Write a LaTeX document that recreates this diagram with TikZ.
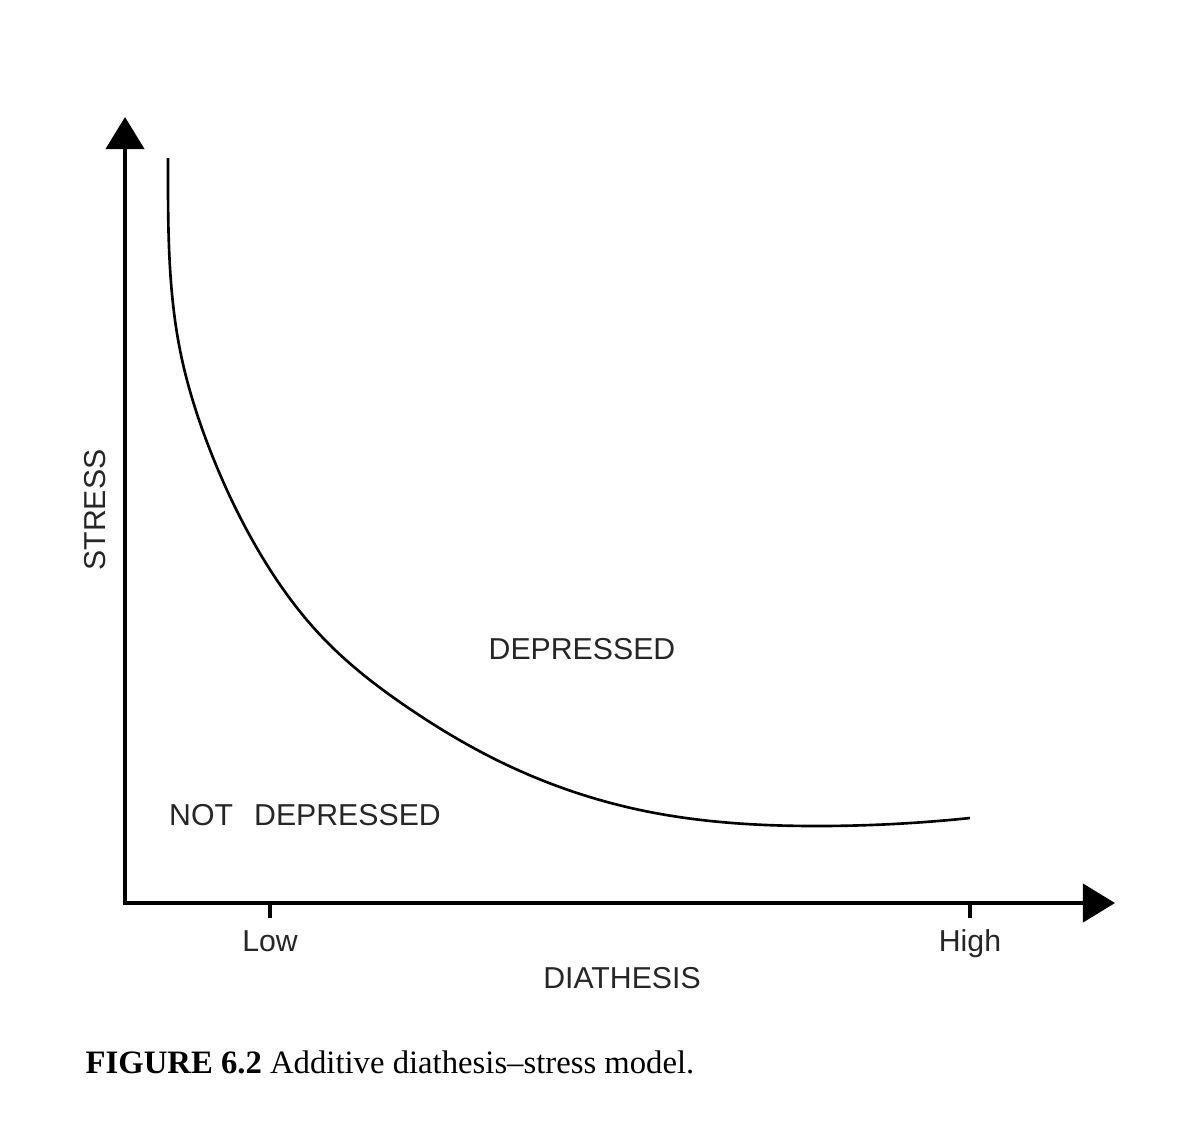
\documentclass[tikz,border=0pt]{standalone}
\usepackage{fontspec}
\setmainfont{Liberation Serif}
\newfontfamily\labelfont{Liberation Sans}
\usepackage{tikz}
\usetikzlibrary{arrows.meta, positioning, hobby}

\begin{document}
\begin{tikzpicture}[x=0.01cm, y=-0.01cm,
    axis/.style={line width=1.15pt},
    curve/.style={line width=0.75pt},
    lbl/.style={font=\labelfont\fontsize{8.6}{10}\selectfont, text=black!85, inner sep=0pt}]

    \useasboundingbox (0,0) rectangle (1200,1136);

    % =================================================================
    % 1. HE TRUC
    % =================================================================
    \coordinate (O) at (125,903);
    \coordinate (ytip) at (125,117);
    \coordinate (xtip) at (1115,903);
    \draw[axis, {Triangle[length=0.32cm, width=0.38cm]}-{Triangle[length=0.32cm, width=0.38cm]}]
        (ytip) -- (O) -- (xtip);

    % Vach chia tren truc hoanh
    \draw[axis] (270,903) -- (270,918);
    \draw[axis] (970,903) -- (970,918);

    % =================================================================
    % 2. DUONG CONG
    % =================================================================
    \draw[curve, use Hobby shortcut] ([out angle=-90]168,158) .. (180,350) .. (210,450)
        .. (258,550) .. (325,640) .. (407,707) .. (507,765) .. (640,810)
        .. (820,826) .. (970,818);

    % =================================================================
    % 3. NHAN
    % =================================================================
    \node[lbl] (dep) at (582,649) {DEPRESSED};
    \node[lbl] (notdep) at (305,815) {NOT\hspace{0.7em}DEPRESSED};
    \node[lbl, rotate=90] (stress) at (95,510) {STRESS};
    \node[lbl, anchor=base] (low) at (270,951) {Low};
    \node[lbl, anchor=base] (high) at (970,951) {High};
    \node[lbl] (diat) at (622,978) {DIATHESIS};

    % Chu thich hinh
    \node[anchor=base west, inner sep=0pt, font=\fontsize{9.3}{11}\selectfont] (cap) at (85,1073)
        {\textbf{FIGURE 6.2} Additive diathesis--stress model.};

\end{tikzpicture}
\end{document}
